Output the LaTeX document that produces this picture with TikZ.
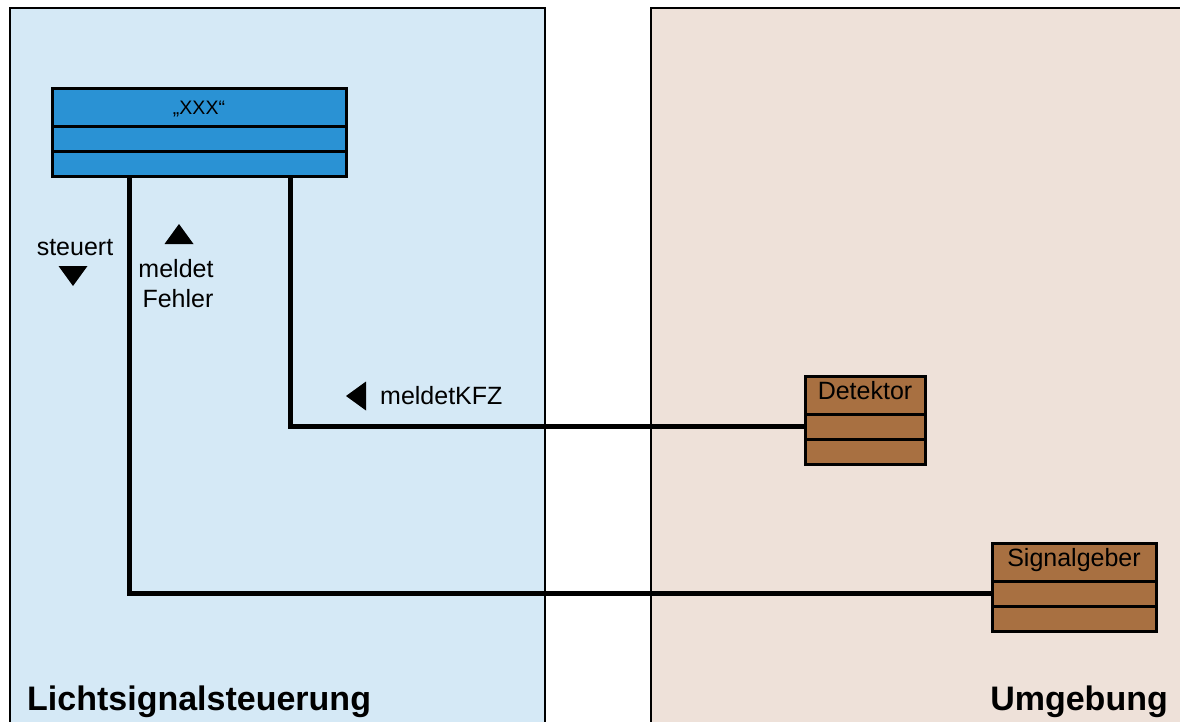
\documentclass[tikz,border=0pt]{standalone}
\usepackage{fontspec}
\setmainfont{Liberation Sans}
\usetikzlibrary{positioning}
\definecolor{lssblue}{RGB}{213,233,246}
\definecolor{envbeige}{RGB}{238,225,217}
\definecolor{classblue}{RGB}{42,146,212}
\definecolor{classbrown}{RGB}{168,112,65}
\tikzset{
    panel/.style={draw, line width=2pt},
    classhead/.style={rectangle, draw, line width=3pt, outer sep=0pt, inner sep=0pt, minimum height=38pt, text depth=10pt, font=\fontsize{25}{30}\selectfont},
    classrow/.style={rectangle, draw, line width=3pt, outer sep=0pt, inner sep=0pt, minimum height=25pt},
    conn/.style={line width=5pt},
    lbl/.style={inner sep=0pt, font=\fontsize{25}{30}\selectfont},
    title/.style={inner sep=0pt, font=\fontsize{34}{40}\selectfont\bfseries}
}

\begin{document}
\begin{tikzpicture}[x=1pt, y=-1pt]
    \clip (0,0) rectangle (1180,722);

    % Boundaries
    \draw [panel, fill=lssblue] (10,8) rectangle (545,740);
    \draw [panel, fill=envbeige] (651,8) rectangle (1200,740);
    \node (lss-title) [title, anchor=base west] at (27,710) {Lichtsignalsteuerung};
    \node (env-title) [title, anchor=base east] at (1168,710) {Umgebung};

    % Classes
    \node (lss) [classhead, fill=classblue, minimum width=294pt, text depth=0pt, font=\fontsize{19.5}{23}\selectfont] at (199,108) {„XXX“};
    \node (lss-attr) [classrow, fill=classblue, minimum width=294pt, below=0pt of lss] {};
    \node (lss-ops) [classrow, fill=classblue, minimum width=294pt, below=0pt of lss-attr] {};

    \node (det) [classhead, fill=classbrown, minimum width=120pt] at (865,395) {Detektor};
    \node (det-attr) [classrow, fill=classbrown, minimum width=120pt, below=0pt of det] {};
    \node (det-ops) [classrow, fill=classbrown, minimum width=120pt, below=0pt of det-attr] {};

    \node (sig) [classhead, fill=classbrown, minimum width=164pt] at (1074,562) {Signalgeber};
    \node (sig-attr) [classrow, fill=classbrown, minimum width=164pt, below=0pt of sig] {};
    \node (sig-ops) [classrow, fill=classbrown, minimum width=164pt, below=0pt of sig-attr] {};

    % Associations
    \draw [conn] ([xshift=77pt]lss-ops.south west) |- (sig-attr.west);
    \draw [conn] ([xshift=238pt]lss-ops.south west) |- (det-attr.west);

    % Labels and reading directions
    \node (steuert) [lbl, anchor=base] at (75,255) {steuert};
    \coordinate (steuert-dir) at (73,276);
    \fill (steuert-dir) ++(-14.5,-10) -- ++(29,0) -- ++(-14.5,20) -- cycle;

    \node (meldet) [lbl, anchor=base] at (176,277) {meldet};
    \node (fehler) [lbl, anchor=base] at (178,307) {Fehler};
    \coordinate (fehler-dir) at (179,234);
    \fill (fehler-dir) ++(-14.5,10) -- ++(29,0) -- ++(-14.5,-20) -- cycle;

    \node (kfz) [lbl, anchor=base west] at (380,404) {meldetKFZ};
    \coordinate (kfz-dir) at (356,396);
    \fill (kfz-dir) ++(10,-14.5) -- ++(0,29) -- ++(-20,-14.5) -- cycle;

\end{tikzpicture}
\end{document}
